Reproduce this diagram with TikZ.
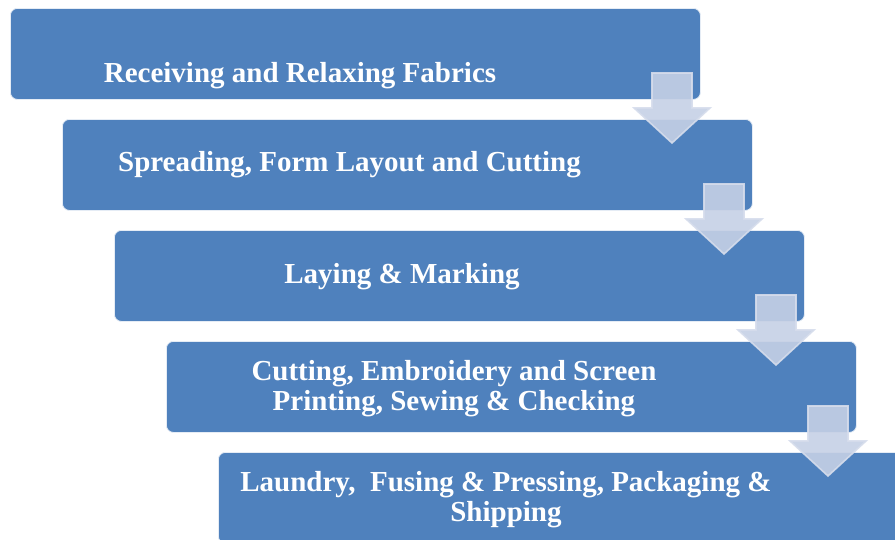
\documentclass[tikz,border=0pt]{standalone}
\usepackage{fontspec}
\setmainfont{Liberation Serif}
\definecolor{boxblue}{RGB}{79,129,189}
\definecolor{arrowfill}{RGB}{197,208,229}
\definecolor{arrowline}{RGB}{214,221,236}
\begin{document}
\begin{tikzpicture}[x=1pt,y=-1pt,
  stepbox/.style={draw=white!85!boxblue, line width=0.8pt, fill=boxblue, rounded corners=7pt,
    minimum width=690pt, minimum height=91pt, anchor=north west, inner sep=0pt},
  steptext/.style={text=white, font=\fontsize{29}{30}\selectfont\bfseries, align=center, inner sep=0pt},
  downarrow/.style={fill=arrowfill, draw=arrowline, line width=1.6pt, fill opacity=0.9, draw opacity=0.9}]
\useasboundingbox (0,0) rectangle (895,539);
\node[stepbox] (b1) at (10,8) {};
\node[stepbox] (b2) at (62,119) {};
\node[stepbox] (b3) at (114,230) {};
\node[stepbox] (b4) at (166,341) {};
\node[stepbox] (b5) at (218,452) {};
\node[steptext] (t1) at (300,76) {Receiving and Relaxing Fabrics};
\node[steptext] (t2) at (349.5,165) {Spreading, Form Layout and Cutting};
\node[steptext] (t3) at (402,277) {Laying \& Marking};
\node[steptext] (t4) at (454,389) {Cutting, Embroidery and Screen\\Printing, Sewing \& Checking};
\node[steptext] (t5) at (506,500) {Laundry,\ \ Fusing \& Pressing, Packaging \&\\Shipping};
\foreach \i in {0,1,2,3}{
  \draw[downarrow] ({652+52*\i},{73+111*\i}) -- ({692+52*\i},{73+111*\i}) -- ({692+52*\i},{108+111*\i})
    -- ({710+52*\i},{108+111*\i}) -- ({672+52*\i},{143+111*\i}) -- ({634+52*\i},{108+111*\i})
    -- ({652+52*\i},{108+111*\i}) -- cycle;
}
\end{tikzpicture}
\end{document}
